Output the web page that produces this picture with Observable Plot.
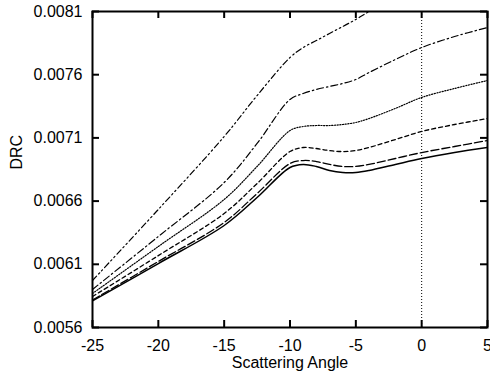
<!DOCTYPE html>
<html><head><meta charset="utf-8">
<script src="https://cdn.jsdelivr.net/npm/d3@7"></script>
<script src="https://cdn.jsdelivr.net/npm/@observablehq/plot@0.6"></script>
<style>body{margin:0;background:#fff}</style>
</head><body><div id="chart"></div>
<script>
// Scattering angle sample points
const angles = [-25, -20, -15, -12.5, -10, -9, -8, -7, -6, -5, -4, -2, 0, 2.5, 5];
// DRC curves (top to bottom)
const seriesDashDotDot = [0.005972, 0.006534, 0.007111, 0.007435, 0.007736, 0.007815, 0.007870, 0.007926, 0.007981, 0.008037, 0.008100, 0.008211, null, null, null];
const seriesDashDot    = [0.005901, 0.006320, 0.006747, 0.007056, 0.007404, 0.007451, 0.007483, 0.007507, 0.007530, 0.007562, 0.007617, 0.007720, 0.007815, 0.007902, 0.007973];
const seriesDotted     = [0.005869, 0.006241, 0.006613, 0.006874, 0.007158, 0.007190, 0.007198, 0.007198, 0.007206, 0.007222, 0.007253, 0.007333, 0.007420, 0.007491, 0.007554];
const seriesShortDash  = [0.005845, 0.006169, 0.006502, 0.006739, 0.006992, 0.007024, 0.007016, 0.007000, 0.006992, 0.007000, 0.007024, 0.007087, 0.007151, 0.007206, 0.007253];
const seriesLongDash   = [0.005818, 0.006122, 0.006431, 0.006660, 0.006897, 0.006921, 0.006913, 0.006890, 0.006874, 0.006874, 0.006890, 0.006937, 0.006984, 0.007032, 0.007079];
const seriesSolid      = [0.005810, 0.006106, 0.006407, 0.006628, 0.006866, 0.006890, 0.006874, 0.006842, 0.006826, 0.006826, 0.006842, 0.006890, 0.006937, 0.006984, 0.007024];

const xTicks = [-25, -20, -15, -10, -5, 0, 5];
const yTicks = [0.0056, 0.0061, 0.0066, 0.0071, 0.0076, 0.0081];
const markerAngle = [0];

const seriesList = [
  {values: seriesDashDotDot, dash: "6,3,1.5,3,1.5,3", width: 1.2},
  {values: seriesDashDot,    dash: "7,3,1.5,3",       width: 1.2},
  {values: seriesDotted,     dash: "1.2,1.5",         width: 1.2},
  {values: seriesShortDash,  dash: "4,3",             width: 1.3},
  {values: seriesLongDash,   dash: "8,3",             width: 1.3},
  {values: seriesSolid,      dash: null,              width: 1.5}
];

const W = 490, H = 379, mt = 11, mb = 52, ml = 92, mr = 3;
const innerW = W - ml - mr, innerH = H - mt - mb;
const tickLen = 7;

const lineMarks = seriesList.map(s => {
  const data = angles.map((a, i) => ({x: a, y: s.values[i]})).filter(d => d.y != null);
  return Plot.line(data, {x: "x", y: "y", curve: "catmull-rom", stroke: "black",
    strokeWidth: s.width, strokeDasharray: s.dash, clip: true});
});

const chart = Plot.plot({
  width: W, height: H,
  marginTop: mt, marginBottom: mb, marginLeft: ml, marginRight: mr,
  x: {domain: [-25, 5]},
  y: {domain: [0.0056, 0.0081]},
  style: {fontFamily: "'Liberation Sans', Arial, sans-serif", fontSize: "16px", color: "black", background: "white", overflow: "visible"},
  marks: [
    Plot.ruleX(markerAngle, {stroke: "black", strokeWidth: 1, strokeDasharray: "1,2"}),
    ...lineMarks,
    Plot.tickX(xTicks, {x: d => d, insetTop: innerH - tickLen, strokeWidth: 2}),
    Plot.tickX(xTicks, {x: d => d, insetBottom: innerH - tickLen, strokeWidth: 2}),
    Plot.tickY(yTicks, {y: d => d, insetRight: innerW - tickLen, strokeWidth: 2}),
    Plot.tickY(yTicks, {y: d => d, insetLeft: innerW - tickLen, strokeWidth: 2}),
    Plot.frame({stroke: "black", strokeWidth: 2}),
    Plot.axisX(xTicks, {tickSize: 0, tickPadding: 12, tickFormat: d => String(d), label: null, fontSize: 16}),
    Plot.axisY(yTicks, {tickSize: 0, tickPadding: 10, tickFormat: d3.format(".4f"), label: null, fontSize: 16}),
    Plot.text(["Scattering Angle"], {text: d => d, frameAnchor: "bottom", dy: 40, fontSize: 16}),
    Plot.text(["DRC"], {text: d => d, frameAnchor: "left", rotate: -90, dx: -76, fontSize: 16})
  ]
});
document.getElementById("chart").appendChild(chart);
</script>
</body></html>
